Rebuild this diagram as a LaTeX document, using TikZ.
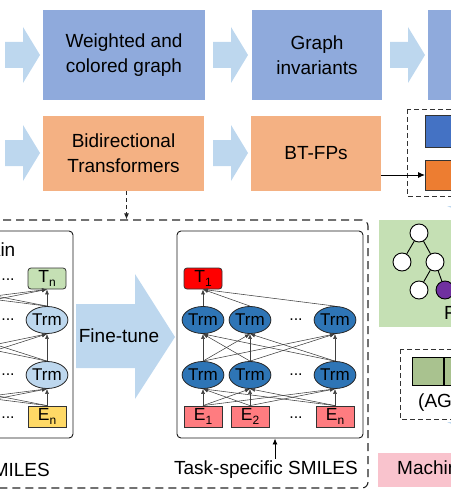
\documentclass[tikz,border=0pt]{standalone}
\usepackage{fontspec}
\setmainfont{Liberation Sans}
\usetikzlibrary{arrows.meta,shapes.geometric}
\definecolor{topblue}{HTML}{8FAADC}
\definecolor{orng}{HTML}{F4B183}
\definecolor{lblue}{HTML}{BDD7EE}
\definecolor{dblue}{HTML}{4472C4}
\definecolor{dorng}{HTML}{ED7D31}
\definecolor{lgreen}{HTML}{C5E0B4}
\definecolor{trmdark}{HTML}{2E75B6}
\definecolor{epink}{HTML}{FF7C80}
\definecolor{eyellow}{HTML}{FFD966}
\definecolor{aggreen}{HTML}{A9C28F}
\definecolor{mlpink}{HTML}{F9C3CD}
\definecolor{purp}{HTML}{7030A0}
\tikzset{
  big/.style={font=\fontsize{19}{25}\selectfont},
  stagebox/.style={big, align=center, inner sep=0pt, text=black},
  fpbox/.style={draw=black!80, line width=1pt, minimum width=60pt, inner sep=0pt},
  smalldash/.style={draw=black!80, line width=0.9pt, dash pattern=on 5pt off 3pt},
  bigdash/.style={draw=black!85, line width=1.1pt, dash pattern=on 8pt off 5pt, rounded corners=6pt},
  panel/.style={draw=black!90, line width=0.9pt, rounded corners=4pt, inner sep=0pt},
  trm/.style={ellipse, draw=black!85, line width=0.8pt, minimum width=38pt, minimum height=27pt, inner sep=0pt, font=\fontsize{17}{18}\selectfont},
  ebox/.style={rectangle, draw=black!80, line width=0.8pt, minimum width=38pt, minimum height=21pt, inner sep=0pt, font=\fontsize{17.5}{18}\selectfont},
  tbox/.style={ebox, rounded corners=3pt},
  dots/.style={font=\fontsize{16}{18}\selectfont, inner sep=0pt},
  conn/.style={draw=black!75, line width=0.55pt, -{Latex[length=5pt,width=4pt]}},
  treenode/.style={circle, draw=black, line width=0.9pt, fill=white, minimum size=18pt, inner sep=0pt},
  agcell/.style={draw=black, line width=0.9pt, fill=aggreen, minimum width=31pt, minimum height=28pt, inner sep=0pt}
}
\newcommand\sub[1]{\raisebox{-3.5pt}{\fontsize{12}{12}\selectfont #1}}
\newcommand\blockarrow[2]{%
  \fill[lblue] (#1,#2-13) -- (#1+18,#2-13) -- (#1+18,#2-28) -- (#1+35,#2) -- (#1+18,#2+28) -- (#1+18,#2+13) -- (#1,#2+13) -- cycle;}
% #1 prefix, #2 base x, #3 Trm fill, #4 E fill, #5 1 = label all columns, 0 = only column n
\newcommand\tfpanel[5]{%
  \foreach \col/\dx in {1/0,2/47,n/132}{
    \node[trm,fill=#3] (#1a\col) at (#2+\dx,375) {\ifnum#5=1 Trm\else\if n\col Trm\fi\fi};
    \node[trm,fill=#3] (#1b\col) at (#2+\dx,320) {\ifnum#5=1 Trm\else\if n\col Trm\fi\fi};
    \node[ebox,fill=#4] (#1e\col) at (#2+\dx,416.5) {\ifnum#5=1 E\sub{\col}\else\if n\col E\sub{\col}\fi\fi};
  }
  \node[dots] (#1d1) at (#2+93,320) {...};
  \node[dots] (#1d2) at (#2+93,375) {...};
  \node[dots] (#1d3) at (#2+93,418) {...};
  \foreach \p in {1,2,n}{\foreach \q in {1,2,n}{
    \draw[conn] (#1e\p.north) -- (#1a\q.south);
    \draw[conn] (#1a\p.north) -- (#1b\q.south);
  }}
}
\begin{document}
\begin{tikzpicture}[x=1pt,y=-1pt]
\useasboundingbox (0,0) rectangle (450,500);
% ---- top row ----
\blockarrow{5}{55}
\blockarrow{213}{55}
\blockarrow{390}{55}
\node[stagebox, fill=topblue, minimum width=162pt, minimum height=90pt] (wcg) at (124,55) {Weighted and\\colored graph};
\node[stagebox, fill=topblue, minimum width=130pt, minimum height=90pt] (ginv) at (317,55) {Graph\\invariants};
\node[stagebox, fill=topblue, minimum width=130pt, minimum height=90pt] (gnext) at (493,55) {};
% ---- second row ----
\blockarrow{5}{153}
\blockarrow{213}{153}
\node[stagebox, fill=orng, minimum width=161pt, minimum height=75pt] (bt) at (123.5,153.5) {Bidirectional\\Transformers};
\node[stagebox, fill=orng, minimum width=130pt, minimum height=75pt] (btfp) at (316,153.5) {BT-FPs};
\draw[smalldash] (407,109) rectangle (530,196);
\node[fpbox, fill=dblue, minimum height=31pt, anchor=west] (fpblue) at (425,131.5) {};
\node[fpbox, fill=dorng, minimum height=30pt, anchor=west] (fporange) at (425,175) {};
\draw[black, line width=1pt, -{Latex[length=7pt,width=6pt]}] (btfp.east |- fporange.west) -- (fporange.west);
% ---- big dashed box ----
\node[bigdash, minimum width=498pt, minimum height=268pt, inner sep=0pt] (ftbox) at (119,354) {};
\draw[black!85, line width=1pt, dash pattern=on 4pt off 3pt, -{Latex[length=6pt,width=5pt]}] ([xshift=3pt]bt.south) -- ([xshift=3pt]bt.south |- ftbox.north);
% ---- pre-train panel ----
\node[panel, minimum width=186pt, minimum height=207pt] (ppan) at (-20,334.5) {};
\node[big, anchor=east, inner sep=0pt] (ptlab) at (15.5,250) {Pre-train};
\tfpanel{p}{-85}{lblue}{eyellow}{0}
\foreach \col/\dx in {1/0,2/47,n/132}{
  \node[tbox, fill=lgreen] (pt\col) at (-85+\dx,278.5) {\if n\col T\sub{n}\fi};
}
\node[dots] (pd0) at (8,280) {...};
\foreach \p in {1,2,n}{\foreach \q in {1,2,n}{
  \draw[conn] (pb\p.north) -- (pt\q.south);
}}
\node[big, anchor=east, inner sep=2pt] (plab) at (52,470) {SMILES};
% ---- fine-tune arrow ----
\fill[lblue] (76,304) -- (135,304) -- (135,274) -- (175,337) -- (135,399) -- (135,368) -- (76,368) -- cycle;
\node[big, inner sep=0pt] (ftlab) at (119,336) {Fine-tune};
% ---- fine-tune panel ----
\node[panel, minimum width=186pt, minimum height=207pt] (mpan) at (270,334.5) {};
\tfpanel{m}{203}{trmdark}{epink}{1}
\node[tbox, fill=red] (mt1) at (203,278.5) {T\sub{1}};
\foreach \p in {1,2,n}{\draw[conn] (mb\p.north) -- (mt1.south);}
\node[big, inner sep=2pt] (tss) at (266,470) {Task-specific SMILES};
\draw[black, line width=0.9pt, -{Latex[length=6pt,width=5pt]}] ([xshift=9pt]tss.north) -- ([xshift=9pt]tss.north |- mpan.south);
% ---- right column ----
\fill[lblue] (447,206) -- (503,206) -- (475,218) -- cycle;
\node[fill=lgreen, minimum width=110pt, minimum height=107pt, inner sep=0pt, anchor=north west] (pathbox) at (379,220) {};
\node[treenode] (r) at (419,233) {};
\node[treenode] (c1) at (402,262) {};
\node[treenode] (c2) at (435,262) {};
\node[treenode] (g1) at (419,290) {};
\node[treenode, fill=purp] (g2) at (445,290) {};
\draw[black, line width=0.9pt] (r) -- (c1) (r) -- (c2) (c2) -- (g1) (c2) -- (g2);
\node[big, anchor=west, inner sep=0pt] (fplab) at (444,313) {FPs};
\draw[smalldash] (400,349) rectangle (540,419);
\node[agcell, anchor=north west] (ag1) at (412,357) {};
\node[agcell, anchor=west] (ag2) at (ag1.east) {};
\node[big, anchor=west, inner sep=0pt] (aglab) at (418,403) {(AG-FPs)};
\fill[lblue] (447,422) -- (503,422) -- (475,434) -- cycle;
\node[fill=mlpink, minimum width=120pt, minimum height=34pt, inner sep=0pt, anchor=north west] (ml) at (378,453) {};
\node[big, anchor=west, inner sep=0pt] (mllab) at (397,470) {Machine learning};
\end{tikzpicture}
\end{document}
